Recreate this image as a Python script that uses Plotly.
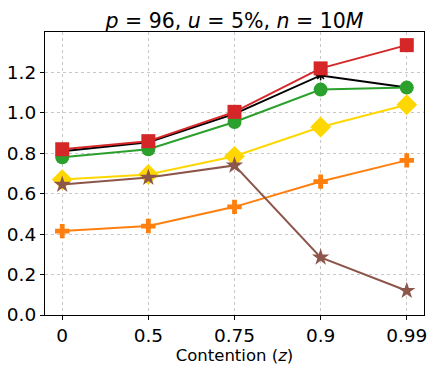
import plotly.graph_objects as go

contention = ["0", "0.5", "0.75", "0.9", "0.99"]

orange_vals = [0.415, 0.44, 0.535, 0.66, 0.765]
black_vals = [0.81, 0.855, 0.995, 1.185, 1.125]
green_vals = [0.78, 0.82, 0.955, 1.115, 1.125]
gold_vals = [0.67, 0.695, 0.785, 0.93, 1.04]
brown_vals = [0.645, 0.68, 0.74, 0.285, 0.12]
red_vals = [0.82, 0.86, 1.005, 1.22, 1.335]

series = [
    (orange_vals, "#ff7f0e", "cross", 12),
    (black_vals, "black", "asterisk-open", 8),
    (green_vals, "#2ca02c", "circle", 14),
    (gold_vals, "gold", "diamond", 16),
    (brown_vals, "#8c564b", "star", 13),
    (red_vals, "#d62728", "square", 14),
]

fig = go.Figure()
for vals, color, symbol, size in series:
    fig.add_trace(go.Scatter(
        x=list(range(len(contention))), y=vals,
        mode="lines+markers",
        line=dict(color=color, width=2),
        marker=dict(color=color, symbol=symbol, size=size,
                    line=dict(color=color, width=1.5 if symbol == "asterisk-open" else 0)),
        showlegend=False))

axis_style = dict(
    showline=True, linecolor="black", linewidth=1.2, mirror=True,
    showgrid=True, gridcolor="#c8c8c8", griddash="dot", gridwidth=0.8,
    ticks="outside", ticklen=4, tickcolor="black", automargin=False,
    tickfont=dict(size=18.5, color="black"), zeroline=False)

# the page body adds an 8px offset, so the figure is 8px smaller
fig.update_layout(
    width=428, height=363,
    margin=dict(l=37, r=12, t=24, b=56),
    paper_bgcolor="white", plot_bgcolor="white",
    font=dict(family="DejaVu Sans", color="black"),
    title=dict(text="<i>p</i> = 96, <i>u</i> = 5%, <i>n</i> = 10<i>M</i>",
               xref="paper", x=0.5, xanchor="center", yref="container", y=0.985, yanchor="top",
               font=dict(size=20.5)),
    xaxis=dict(axis_style, tickmode="array", tickvals=list(range(len(contention))),
               ticktext=contention, range=[-0.2, 4.2],
               title=dict(text="Contention (<i>z</i>)", font=dict(size=16.5), standoff=2)),
    yaxis=dict(axis_style, range=[0, 1.4], tickvals=[0, 0.2, 0.4, 0.6, 0.8, 1.0, 1.2],
               tickformat=".1f"),
)

fig.write_html("out.html")
